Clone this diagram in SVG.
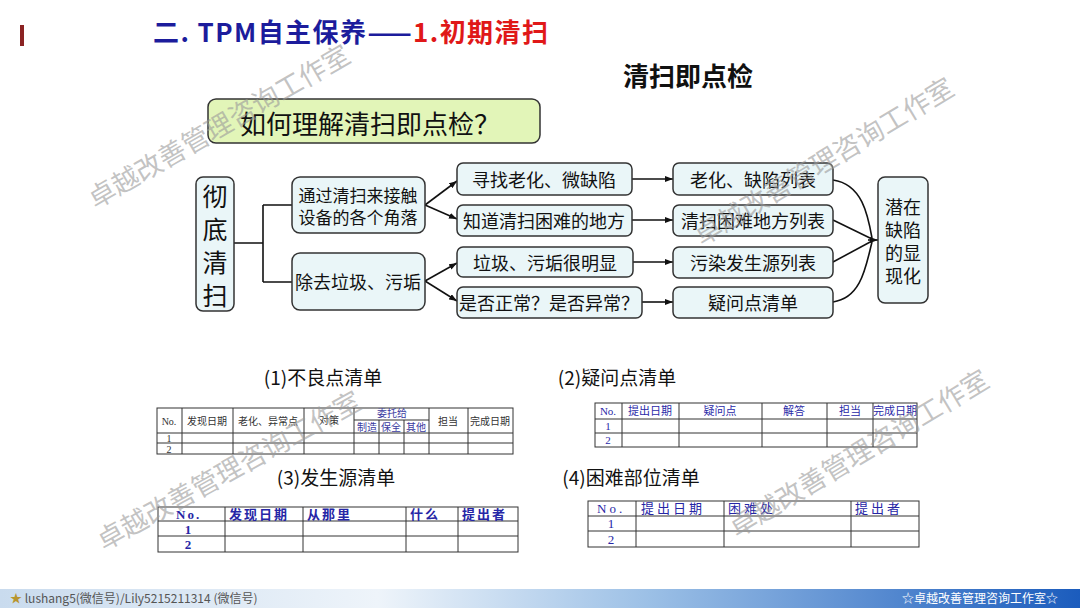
<svg xmlns="http://www.w3.org/2000/svg" width="1080" height="608" viewBox="0 0 1080 608">
<defs>
<marker id="ah" markerWidth="8" markerHeight="6" refX="8" refY="3" orient="auto" markerUnits="userSpaceOnUse"><path d="M0,0 L8,3 L0,6 z" fill="#111"/></marker>
<linearGradient id="bar" x1="0" y1="0" x2="1" y2="0">
<stop offset="0" stop-color="#c9dbee"/><stop offset="0.35" stop-color="#eef4fa"/><stop offset="0.6" stop-color="#9cc0e6"/><stop offset="1" stop-color="#1b5cbd"/>
</linearGradient>
<style>
.cjk{font-family:"Noto Sans CJK SC","Liberation Sans",sans-serif}
.box{fill:#eaf6f8;stroke:#333;stroke-width:1.5}
.bt{font-family:"Noto Sans CJK SC",sans-serif;font-size:18px;fill:#111;text-anchor:middle;dominant-baseline:central}
.big{font-size:25px}
.sm{font-size:17px}
.fin{font-size:18px}
.con{fill:none;stroke:#111;stroke-width:1.6}
.grid{fill:none;stroke:#333;stroke-width:1}
.tt{font-family:"Noto Sans CJK SC",sans-serif;font-size:19px;fill:#111}
.th{font-family:"Liberation Serif","Noto Sans CJK SC",serif;font-size:10px;fill:#333;text-anchor:middle;dominant-baseline:central}
.blu{fill:#3a3aa0}
.thb{font-family:"Liberation Serif","Noto Sans CJK SC",serif;font-size:11px;fill:#2a2aa8;text-anchor:middle;dominant-baseline:central}
.thc{font-family:"Liberation Serif","Noto Sans CJK SC",serif;font-size:13px;fill:#2626a6;font-weight:bold;dominant-baseline:central;letter-spacing:2px}
.thd{font-family:"Liberation Serif","Noto Sans CJK SC",serif;font-size:13px;fill:#2626a6;dominant-baseline:central;letter-spacing:3px}
.num{text-anchor:middle;letter-spacing:0}
.wm{font-family:"Noto Sans CJK SC",sans-serif;font-size:27px;fill:#9a9a9a;fill-opacity:0.6;text-anchor:middle;dominant-baseline:central}
</style>
</defs>
<rect width="1080" height="608" fill="#fff"/>

<g id="header">
<rect x="20" y="25" width="4" height="21" fill="#8b2323"/>
<text class="cjk" x="153" y="42" font-size="26" font-weight="bold" textLength="395" lengthAdjust="spacing"><tspan fill="#1c1c9c">二. TPM自主保养——</tspan><tspan fill="#e01818">1.初期清扫</tspan></text>
<text class="cjk" x="688" y="86" font-size="26" font-weight="bold" fill="#111" text-anchor="middle">清扫即点检</text>
</g>

<g id="question">
<rect x="208" y="99" width="332" height="44" rx="8" fill="#e2f5b8" stroke="#333" stroke-width="1.5"/>
<text class="cjk" x="370" y="122" font-size="26" fill="#111" text-anchor="middle" dominant-baseline="central">如何理解清扫即点检？</text>
</g>

<g id="connectors">
<path class="con" d="M234,243 H263 M263,205 V282 M263,205 H292 M263,282 H292"/>
<line class="con" x1="425" y1="205" x2="457" y2="181" marker-end="url(#ah)"/>
<line class="con" x1="425" y1="205" x2="457" y2="219" marker-end="url(#ah)"/>
<line class="con" x1="425" y1="281" x2="457" y2="263" marker-end="url(#ah)"/>
<line class="con" x1="425" y1="281" x2="457" y2="301" marker-end="url(#ah)"/>
<line class="con" x1="632" y1="179" x2="673" y2="179" marker-end="url(#ah)"/>
<line class="con" x1="632" y1="220" x2="673" y2="220" marker-end="url(#ah)"/>
<line class="con" x1="633" y1="262" x2="673" y2="262" marker-end="url(#ah)"/>
<line class="con" x1="642" y1="302" x2="673" y2="302" marker-end="url(#ah)"/>
<path class="con" d="M833,180 C862,184 868,215 872,238"/>
<path class="con" d="M833,220 L872,239"/>
<path class="con" d="M833,262 L872,241"/>
<path class="con" d="M833,302 C862,298 866,265 872,242"/>
<line class="con" x1="868" y1="240" x2="878" y2="240" marker-end="url(#ah)"/>
</g>

<g id="n-chedi">
<rect class="box" x="196" y="177" width="38" height="134" rx="7"/>
<text class="bt big" x="215" y="195">彻</text>
<text class="bt big" x="215" y="228">底</text>
<text class="bt big" x="215" y="261">清</text>
<text class="bt big" x="215" y="294">扫</text>
</g>
<g id="n-a">
<rect class="box" x="292" y="177" width="133" height="56" rx="8"/>
<text class="bt sm" x="358" y="194">通过清扫来接触</text>
<text class="bt sm" x="358" y="216">设备的各个角落</text>
</g>
<g id="n-b">
<rect class="box" x="292" y="253" width="133" height="57" rx="8"/>
<text class="bt" x="358" y="281">除去垃圾、污垢</text>
</g>
<g id="n-c1"><rect class="box" x="457" y="163" width="175" height="32" rx="6"/><text class="bt" x="544" y="179">寻找老化、微缺陷</text></g>
<g id="n-c2"><rect class="box" x="457" y="205" width="175" height="31" rx="6"/><text class="bt" x="544" y="220">知道清扫困难的地方</text></g>
<g id="n-c3"><rect class="box" x="457" y="247" width="176" height="30" rx="6"/><text class="bt" x="545" y="262">垃圾、污垢很明显</text></g>
<g id="n-c4"><rect class="box" x="457" y="287" width="185" height="31" rx="6"/><text class="bt" x="549" y="302">是否正常？是否异常？</text></g>
<g id="n-d1"><rect class="box" x="673" y="163" width="160" height="32" rx="6"/><text class="bt" x="753" y="179">老化、缺陷列表</text></g>
<g id="n-d2"><rect class="box" x="673" y="205" width="160" height="31" rx="6"/><text class="bt" x="753" y="220">清扫困难地方列表</text></g>
<g id="n-d3"><rect class="box" x="673" y="247" width="160" height="31" rx="6"/><text class="bt" x="753" y="262">污染发生源列表</text></g>
<g id="n-d4"><rect class="box" x="673" y="287" width="160" height="31" rx="6"/><text class="bt" x="753" y="302">疑问点清单</text></g>
<g id="n-final">
<rect class="box" x="878" y="177" width="50" height="126" rx="7"/>
<text class="bt fin" x="903" y="206">潜在</text>
<text class="bt fin" x="903" y="229">缺陷</text>
<text class="bt fin" x="903" y="252">的显</text>
<text class="bt fin" x="903" y="275">现化</text>
</g>

<g id="table1">
<text class="tt" x="323" y="385" text-anchor="middle">(1)不良点清单</text>
<rect class="grid" x="157" y="408" width="356" height="46" stroke-width="1.3"/>
<path class="grid" d="M157,433 H513 M157,443 H513 M182,408 V454 M233,408 V454 M304,408 V454 M354,408 V454 M379,420 V454 M404,420 V454 M429,408 V454 M468,408 V454 M354,420 H429"/>
<text class="th" x="169" y="421">No.</text>
<text class="th" x="207" y="421">发现日期</text>
<text class="th" x="268" y="421">老化、异常点</text>
<text class="th" x="329" y="420">对策</text>
<text class="th blu" x="392" y="413">委托给</text>
<text class="th blu" x="367" y="427">制造</text>
<text class="th blu" x="391" y="427">保全</text>
<text class="th blu" x="416" y="427">其他</text>
<text class="th" x="448" y="421">担当</text>
<text class="th" x="490" y="421">完成日期</text>
<text class="th" x="169" y="438">1</text>
<text class="th" x="169" y="449">2</text>
</g>

<g id="table2">
<text class="tt" x="617" y="385" text-anchor="middle">(2)疑问点清单</text>
<rect class="grid" x="595" y="403" width="322" height="44" stroke-width="1.3"/>
<path class="grid" d="M595,419 H917 M595,433 H917 M622,403 V447 M679,403 V447 M762,403 V447 M827,403 V447 M873,403 V447"/>
<text class="thb" x="608" y="411">No.</text>
<text class="thb" x="650" y="411">提出日期</text>
<text class="thb" x="720" y="411">疑问点</text>
<text class="thb" x="794" y="411">解答</text>
<text class="thb" x="850" y="411">担当</text>
<text class="thb" x="895" y="411">完成日期</text>
<text class="thb" x="608" y="426">1</text>
<text class="thb" x="608" y="440">2</text>
</g>

<g id="table3">
<text class="tt" x="336" y="485" text-anchor="middle">(3)发生源清单</text>
<rect class="grid" x="158" y="507" width="360" height="45" stroke-width="1.3"/>
<path class="grid" d="M158,521 H518 M158,536 H518 M225,507 V552 M303,507 V552 M406,507 V552 M458,507 V552"/>
<text class="thc" x="176" y="514">No.</text>
<text class="thc" x="229" y="514">发现日期</text>
<text class="thc" x="307" y="514">从那里</text>
<text class="thc" x="410" y="514">什么</text>
<text class="thc" x="462" y="514">提出者</text>
<text class="thc num" x="188" y="529">1</text>
<text class="thc num" x="188" y="544">2</text>
</g>

<g id="table4">
<text class="tt" x="631" y="485" text-anchor="middle">(4)困难部位清单</text>
<rect class="grid" x="588" y="501" width="331" height="46" stroke-width="1.3"/>
<path class="grid" d="M588,516 H919 M588,531 H919 M636,501 V547 M724,501 V547 M851,501 V547"/>
<text class="thd" x="597" y="508">No.</text>
<text class="thd" x="641" y="508">提出日期</text>
<text class="thd" x="728" y="508">困难处</text>
<text class="thd" x="855" y="508">提出者</text>
<text class="thd num" x="611" y="523">1</text>
<text class="thd num" x="611" y="539">2</text>
</g>

<g id="footer">
<rect x="0" y="589" width="1080" height="19" fill="url(#bar)"/>
<text class="cjk" x="10" y="603" font-size="12" fill="#555"><tspan fill="#b8952e">★</tspan> lushang5(微信号)/Lily5215211314 (微信号)</text>
<text class="cjk" x="1058" y="603" font-size="12" fill="#fff" text-anchor="end">☆卓越改善管理咨询工作室☆</text>
</g>

<g id="watermarks">
<text class="wm" transform="translate(218,125) rotate(-30)">卓越改善管理咨询工作室</text>
<text class="wm" transform="translate(823,160) rotate(-31)">卓越改善管理咨询工作室</text>
<text class="wm" transform="translate(228,469) rotate(-29)">卓越改善管理咨询工作室</text>
<text class="wm" transform="translate(858,452) rotate(-31)">卓越改善管理咨询工作室</text>
</g>
</svg>
